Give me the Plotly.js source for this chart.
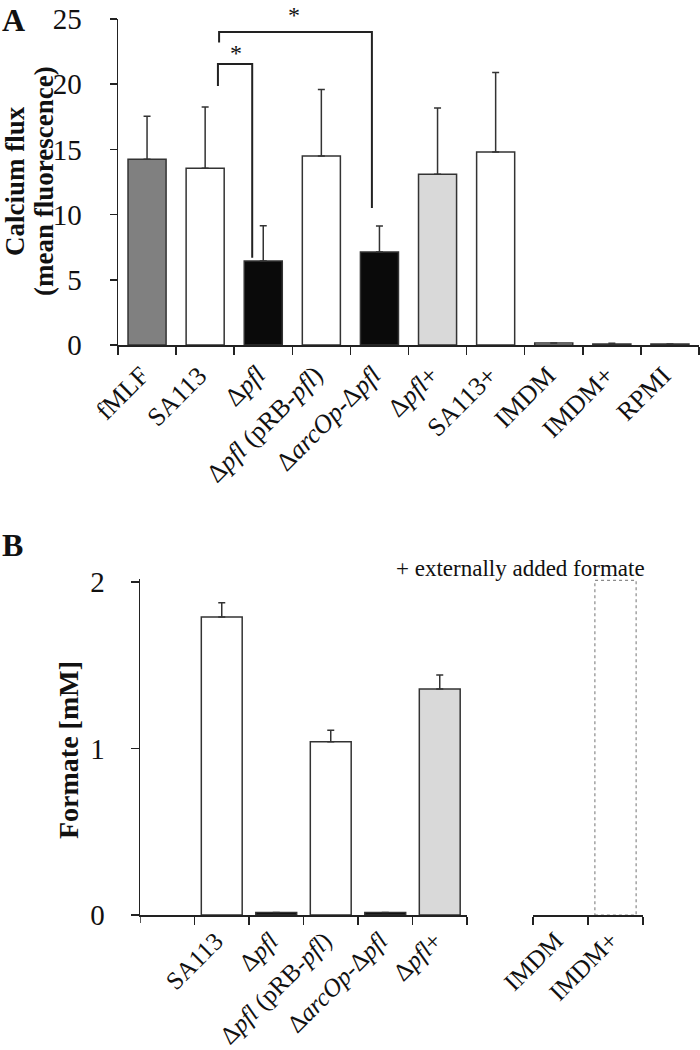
<!DOCTYPE html>
<html>
<head>
<meta charset="utf-8">
<script src="https://cdn.plot.ly/plotly-3.0.1.min.js"></script>
<style>html,body{margin:0;padding:0;background:#fff;}#chart{width:700px;height:1050px;}</style>
</head>
<body>
<div id="chart"></div>
<script>
// ---------- Panel A data ----------
const catsA = ['fMLF', 'SA113', 'Δpfl', 'Δpfl (pRB-pfl)', 'ΔarcOp-Δpfl', 'Δpfl+', 'SA113+', 'IMDM', 'IMDM+', 'RPMI'];
const labelsA = ['fMLF', 'SA113', 'Δ<i>pfl</i>', 'Δ<i>pfl</i> (pRB-<i>pfl</i>)', 'Δ<i>arcOp</i>-Δ<i>pfl</i>', 'Δ<i>pfl</i>+', 'SA113+', 'IMDM', 'IMDM+', 'RPMI'];
const valuesA = [14.25, 13.55, 6.45, 14.5, 7.13, 13.1, 14.8, 0.15, 0.08, 0.07];
const errorsA = [3.3, 4.7, 2.7, 5.1, 2.0, 5.07, 6.1, 0.0, 0.06, 0.0];
const colorsA = ['#808080', '#ffffff', '#0a0a0a', '#ffffff', '#0a0a0a', '#d9d9d9', '#ffffff', '#ffffff', '#111111', '#111111'];
const ticksA = [0, 5, 10, 15, 20, 25];

// ---------- Panel B data ----------
const catsB = ['SA113', 'Δpfl', 'Δpfl (pRB-pfl)', 'ΔarcOp-Δpfl', 'Δpfl+'];
const labelsB = ['SA113', 'Δ<i>pfl</i>', 'Δ<i>pfl</i> (pRB-<i>pfl</i>)', 'Δ<i>arcOp</i>-Δ<i>pfl</i>', 'Δ<i>pfl</i>+'];
const valuesB = [1.79, 0.015, 1.04, 0.015, 1.357];
const errorsB = [0.085, 0, 0.07, 0, 0.085];
const colorsB = ['#ffffff', '#0a0a0a', '#ffffff', '#0a0a0a', '#d9d9d9'];
const catsB2 = ['IMDM', 'IMDM+'];
const labelsB2 = ['IMDM', 'IMDM+'];
const valuesB2 = [0, 2.01];
const ticksB = [0, 1, 2];

// ---------- helpers ----------
const W = 700, H = 1050;
const px = v => v / W;
const py = v => 1 - v / H;
const FONT = 'Liberation Serif, Times New Roman, serif';
const INK = '#222222';
const barWA = 0.655, barWB = 0.75;
const yMaxA = 25, yMaxB = 2.02;
const A0 = 345, A25 = 19, B0 = 915, B2 = 582;
const pxPerB = (B0 - B2) / 2;

const traces = [
  {
    type: 'bar', x: catsA, y: valuesA, xaxis: 'x', yaxis: 'y',
    width: barWA,
    marker: {color: colorsA, line: {color: '#333333', width: 1.5}},
    error_y: {type: 'data', array: errorsA, arrayminus: errorsA.map(() => 0), symmetric: false,
              color: '#333333', thickness: 1.5, width: 3.5},
    hoverinfo: 'x+y'
  },
  {
    type: 'bar', x: catsB, y: valuesB, xaxis: 'x2', yaxis: 'y2',
    width: barWB,
    marker: {color: colorsB, line: {color: '#333333', width: 1.5}},
    error_y: {type: 'data', array: errorsB, arrayminus: errorsB.map(() => 0), symmetric: false,
              color: '#333333', thickness: 1.5, width: 3.5},
    hoverinfo: 'x+y'
  },
  {
    type: 'bar', x: catsB2, y: valuesB2, xaxis: 'x3', yaxis: 'y2',
    width: barWB,
    marker: {color: '#ffffff', line: {color: '#ffffff', width: 0}},
    hoverinfo: 'x+y'
  }
];

const axisCommon = {
  showgrid: false, zeroline: false, showline: true, linecolor: INK, linewidth: 1.5,
  ticks: 'outside', tickcolor: INK, tickwidth: 1.5, fixedrange: true
};

// rotated category labels (drawn as annotations so the -45° slant is exact)
function catLabels(cats, labels, xref, axisRow, gap, size) {
  return cats.map((c, i) => ({
    text: labels[i], xref: xref, yref: 'paper', x: c, y: py(axisRow + gap),
    xanchor: 'right', yanchor: 'top', xshift: 10, textangle: -45,
    showarrow: false, font: {size: size, family: FONT, color: '#111'}
  }));
}

const layout = {
  width: W, height: H,
  margin: {l: 0, r: 0, t: 0, b: 0},
  paper_bgcolor: '#ffffff', plot_bgcolor: 'rgba(0,0,0,0)',
  showlegend: false,
  font: {family: FONT, color: '#111111'},
  xaxis: Object.assign({}, axisCommon, {
    domain: [px(118), px(699)], type: 'category', anchor: 'y',
    categoryorder: 'array', categoryarray: catsA,
    range: [-0.5, catsA.length - 0.5],
    tickmode: 'array', tickvals: catsA, ticktext: labelsA, showticklabels: false,
    tickson: 'boundaries', ticklen: 8
  }),
  yaxis: Object.assign({}, axisCommon, {
    domain: [py(A0), py(A25)], range: [0, yMaxA], anchor: 'x',
    tickmode: 'array', tickvals: ticksA, ticklen: 7, ticklabelstandoff: 22,
    tickfont: {size: 29, family: FONT, color: '#111'}
  }),
  xaxis2: Object.assign({}, axisCommon, {
    domain: [px(140), px(467)], type: 'category', anchor: 'y2',
    categoryorder: 'array', categoryarray: catsB,
    range: [-1.5, catsB.length - 0.5],
    tickmode: 'array', tickvals: catsB, ticktext: labelsB, showticklabels: false,
    tickson: 'boundaries', ticklen: 8
  }),
  xaxis3: Object.assign({}, axisCommon, {
    domain: [px(533), px(643)], type: 'category', anchor: 'y2',
    categoryorder: 'array', categoryarray: catsB2,
    range: [-0.5, catsB2.length - 0.5],
    tickmode: 'array', tickvals: catsB2, ticktext: labelsB2, showticklabels: false,
    tickson: 'boundaries', ticklen: 8
  }),
  yaxis2: Object.assign({}, axisCommon, {
    domain: [py(B0), py(B0 - pxPerB * yMaxB)], range: [0, yMaxB], anchor: 'x2',
    tickmode: 'array', tickvals: ticksB, ticklen: 8, ticklabelstandoff: 20,
    tickfont: {size: 29, family: FONT, color: '#111'}
  }),
  shapes: [
    // significance bracket: SA113 vs Δpfl
    {type: 'path', xref: 'x', yref: 'y', path: 'M 1.22,19.86 L 1.22,21.55 L 1.81,21.55 L 1.81,6.7',
     line: {color: INK, width: 2}},
    // significance bracket: SA113 vs ΔarcOp-Δpfl
    {type: 'path', xref: 'x', yref: 'y', path: 'M 1.24,23.2 L 1.24,24.0 L 3.87,24.0 L 3.87,10.5',
     line: {color: INK, width: 2}},
    // extra boundary tick at the left end of panel B's x axis
    {type: 'line', xref: 'x2', yref: 'paper', x0: -1.5, x1: -1.5, y0: py(B0), y1: py(B0 + 8),
     line: {color: INK, width: 1.5}},
    // dotted outline of the IMDM+ bar (panel B)
    {type: 'rect', xref: 'x3', yref: 'y2',
     x0: 1 - barWB / 2, x1: 1 + barWB / 2, y0: 0, y1: valuesB2[1],
     line: {color: '#8a8a8a', width: 1.2, dash: 'dot'}, fillcolor: 'rgba(0,0,0,0)'}
  ],
  annotations: [
    {text: '<b>A</b>', xref: 'paper', yref: 'paper', x: px(0), y: py(0), xanchor: 'left', yanchor: 'top',
     showarrow: false, font: {size: 32, family: FONT, color: '#111'}},
    {text: '<b>B</b>', xref: 'paper', yref: 'paper', x: px(0), y: py(525), xanchor: 'left', yanchor: 'top',
     showarrow: false, font: {size: 32, family: FONT, color: '#111'}},
    {text: '<b>Calcium flux</b>', xref: 'paper', yref: 'paper', x: px(15), y: py(181),
     xanchor: 'center', yanchor: 'middle', textangle: -90, showarrow: false,
     font: {size: 27, family: FONT, color: '#111'}},
    {text: '<b>(mean fluorescence)</b>', xref: 'paper', yref: 'paper', x: px(44), y: py(181),
     xanchor: 'center', yanchor: 'middle', textangle: -90, showarrow: false,
     font: {size: 27, family: FONT, color: '#111'}},
    {text: '<b>Formate [mM]</b>', xref: 'paper', yref: 'paper', x: px(68), y: py(750),
     xanchor: 'center', yanchor: 'middle', textangle: -90, showarrow: false,
     font: {size: 28, family: FONT, color: '#111'}},
    {text: '+ externally added formate', xref: 'paper', yref: 'paper', x: px(520), y: py(568),
     xanchor: 'center', yanchor: 'middle', showarrow: false,
     font: {size: 23, family: FONT, color: '#111'}},
    {text: '*', xref: 'x', yref: 'y domain', x: 1.53, y: 22.4 / yMaxA, xanchor: 'center', yanchor: 'middle',
     showarrow: false, font: {size: 24, family: FONT, color: '#111'}},
    {text: '*', xref: 'x', yref: 'paper', x: 2.53, y: py(0), xanchor: 'center', yanchor: 'top',
     showarrow: false, font: {size: 24, family: FONT, color: '#111'}}
  ].concat(
    catLabels(catsA, labelsA, 'x', A0, 13, 26),
    catLabels(catsB, labelsB, 'x2', B0, 9, 25),
    catLabels(catsB2, labelsB2, 'x3', B0, 9, 25)
  )
};

Plotly.newPlot('chart', traces, layout, {displayModeBar: false, staticPlot: true});
</script>
</body>
</html>
